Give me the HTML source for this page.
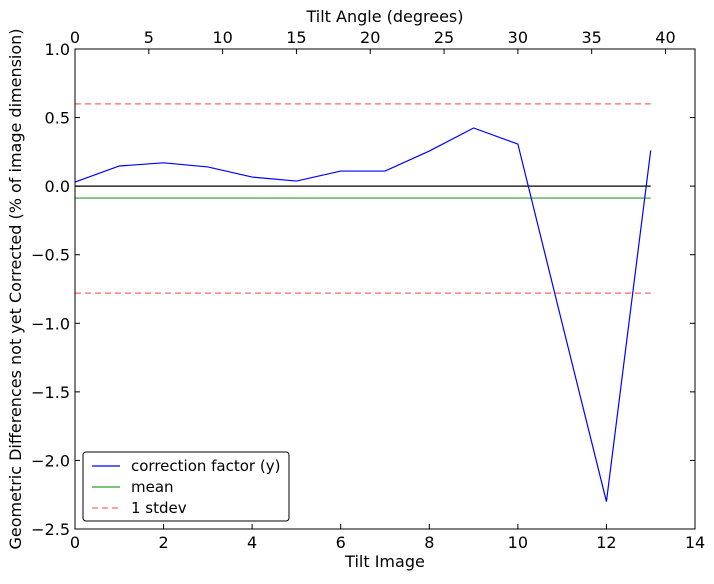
<!DOCTYPE html>
<html><head><meta charset="utf-8"><style>
body{margin:0;background:#fff}
svg text{font-family:"DejaVu Sans","Liberation Sans",sans-serif;fill:#000}
</style></head><body>
<svg width="714" height="579" xmlns="http://www.w3.org/2000/svg">
<g id="plot"></g>
</svg>
<script>
const xValues=[0,1,2,3,4,5,6,7,8,9,10,11,12,13];
const yValues=[0.03,0.147,0.17,0.14,0.066,0.037,0.11,0.11,0.256,0.424,0.307,-1.0,-2.30,0.26];
const meanValue=-0.087;
const stdevUpper=0.60;
const stdevLower=-0.78;
const xTicks=[0,2,4,6,8,10,12,14];
const yTicks=[1.0,0.5,0.0,-0.5,-1.0,-1.5,-2.0,-2.5];
const topTicks=[0,5,10,15,20,25,30,35,40];
const L=75,R=695,T=49,B=529;
const sx=v=>L+(v-0)/(14-0)*(R-L);
const sy=v=>T+(1.0-v)/(1.0+2.5)*(B-T);
const stx=v=>L+v/42*(R-L);
const NS="http://www.w3.org/2000/svg";
const g=document.getElementById('plot');
function mk(tag,attrs,txt){const e=document.createElementNS(NS,tag);for(const k in attrs)e.setAttribute(k,attrs[k]);if(txt!==undefined)e.textContent=txt;g.appendChild(e);return e;}
let e;
e=mk('line',{x1:sx(0),x2:sx(13),y1:sy(0),y2:sy(0),stroke:'#000','stroke-width':1.2});


e=mk('line',{x1:sx(0),x2:sx(13),y1:sy(meanValue),y2:sy(meanValue),stroke:'#2ca02c','stroke-width':1.2});


[stdevUpper,stdevLower].forEach((v,i)=>{
e=mk('line',{x1:sx(0),x2:sx(13),y1:sy(v),y2:sy(v),stroke:'#ff6666','stroke-width':1.2,'stroke-dasharray':'6,4'});


});
e=mk('polyline',{points:xValues.map((x,i)=>sx(x)+','+sy(yValues[i])).join(' '),fill:'none',stroke:'#0000ff','stroke-width':1.2});


e=mk('rect',{x:L,y:T,width:R-L,height:B-T,fill:'none',stroke:'#000','stroke-width':1});


xTicks.forEach(v=>{
mk('line',{x1:sx(v),x2:sx(v),y1:B,y2:B-5,stroke:'#000'});
e=mk('text',{x:sx(v),y:B+19,'text-anchor':'middle','font-size':16},String(v));


});
yTicks.forEach(v=>{
mk('line',{x1:L,x2:L+5,y1:sy(v),y2:sy(v),stroke:'#000'});
mk('line',{x1:R,x2:R-5,y1:sy(v),y2:sy(v),stroke:'#000'});
e=mk('text',{x:L-5,y:sy(v)+6,'text-anchor':'end','font-size':16},v.toFixed(1).replace('-','\u2212'));


});
topTicks.forEach(v=>{
mk('line',{x1:stx(v),x2:stx(v),y1:T,y2:T+5,stroke:'#000'});
e=mk('text',{x:stx(v),y:T-6,'text-anchor':'middle','font-size':16},String(v));


});
e=mk('text',{x:385,y:567,'text-anchor':'middle','font-size':16},'Tilt Image');


e=mk('text',{x:385,y:22,'text-anchor':'middle','font-size':16},'Tilt Angle (degrees)');


e=mk('text',{x:0,y:0,'text-anchor':'middle','font-size':16,transform:'translate(21,289) rotate(-90)'},'Geometric Differences not yet Corrected (% of image dimension)');


e=mk('rect',{x:83,y:452,width:206,height:69,rx:3,fill:'#fff',stroke:'#000'});


[['correction factor (y)','#0000ff',null],['mean','#2ca02c',null],['1 stdev','#ff6666','6,4']].forEach((d,i)=>{
const y=466+i*21;
const a={x1:92,x2:120,y1:y,y2:y,stroke:d[1],'stroke-width':1.2};if(d[2])a['stroke-dasharray']=d[2];
mk('line',a);
e=mk('text',{x:131,y:y+5,'font-size':15},d[0]);


});
</script>
</body></html>
